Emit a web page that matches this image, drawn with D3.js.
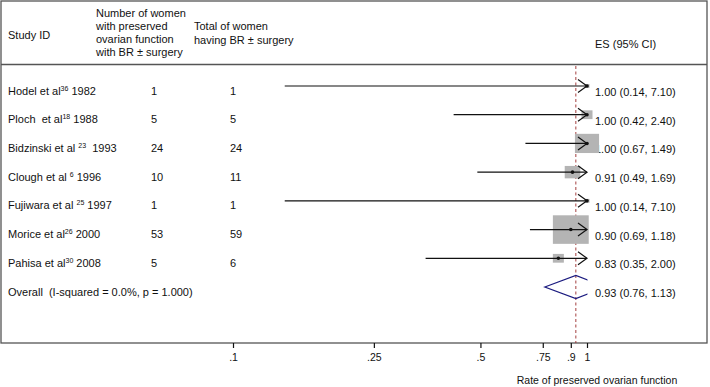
<!DOCTYPE html>
<html><head><meta charset="utf-8">
<script src="https://cdn.jsdelivr.net/npm/d3@7"></script>
<style>
html,body{margin:0;padding:0;background:#fff;}
svg text{font-family:"Liberation Sans",Arial,sans-serif;fill:#111;white-space:pre;}
</style></head>
<body><svg id="c" width="710" height="387"></svg>
<script>
const studies = ["Hodel et al", "Ploch  et al", "Bidzinski et al ", "Clough et al ", "Fujiwara et al ", "Morice et al", "Pahisa et al"];
const refs = ["36", "18", "23", "6", "25", "26", "30"];
const years = [" 1982", " 1988", "  1993", " 1996", " 1997", " 2000", " 2008"];
const preserved = [1, 5, 24, 10, 1, 53, 5];
const totals = [1, 5, 24, 11, 1, 59, 6];
const es = [1.00, 1.00, 1.00, 0.91, 1.00, 0.90, 0.83];
const lo = [0.14, 0.42, 0.67, 0.49, 0.14, 0.69, 0.35];
const hi = [7.10, 2.40, 1.49, 1.69, 7.10, 1.18, 2.00];
const weights = [1.01, 5.05, 24.24, 10.10, 1.01, 53.54, 5.05];
const overall = {es: 0.93, lo: 0.76, hi: 1.13, label: "Overall  (I-squared = 0.0%, p = 1.000)"};
const tickVals = [0.1, 0.25, 0.5, 0.75, 0.9, 1];
const tickLabels = [".1", ".25", ".5", ".75", ".9", "1"];
const axisTitle = "Rate of preserved ovarian function";

const svg = d3.select("#c");
const x = d3.scaleLog().domain([0.1, 1]).range([233, 587]);
const y = d3.scaleLinear().domain([0, 7]).range([86, 287]);
const xmax = x(1);
const fmt = d3.format(".2f");

// frame
svg.append("rect").attr("x", 1).attr("y", 1).attr("width", 706).attr("height", 342)
  .attr("fill", "none").attr("stroke", "#555").attr("stroke-width", 1.3);
svg.append("line").attr("x1", 1).attr("x2", 707).attr("y1", 64.5).attr("y2", 64.5)
  .attr("stroke", "#555").attr("stroke-width", 1.3);

// header
const fs = "11px";
svg.append("text").attr("x", 8).attr("y", 39).style("font-size", fs).text("Study ID");
["Number of women", "with preserved", "ovarian function", "with BR \u00b1 surgery"].forEach((t, i) =>
  svg.append("text").attr("x", 96).attr("y", 17 + i * 13).style("font-size", fs).text(t));
["Total of women", "having BR \u00b1 surgery"].forEach((t, i) =>
  svg.append("text").attr("x", 194).attr("y", 30 + i * 14).style("font-size", fs).text(t));
svg.append("text").attr("x", 595).attr("y", 48).style("font-size", fs).text("ES (95% CI)");

// reference dashed line
svg.append("line").attr("x1", x(overall.es)).attr("x2", x(overall.es)).attr("y1", 66).attr("y2", 343)
  .attr("stroke", "#9a2a2a").attr("stroke-width", 0.9).attr("stroke-dasharray", "3,2.5");

// clip
svg.append("clipPath").attr("id", "clip").append("rect").attr("x", 0).attr("y", 65).attr("width", xmax + 0.5).attr("height", 278);

// rows
studies.forEach((s, i) => {
  const yy = y(i);
  const t = svg.append("text").attr("x", 8).attr("y", yy + 8.5).style("font-size", fs);
  t.append("tspan").text(s);
  t.append("tspan").attr("dy", -4).style("font-size", "7px").text(refs[i]);
  t.append("tspan").attr("dy", 4).text(years[i]);
  svg.append("text").attr("x", 151).attr("y", yy + 8.5).style("font-size", fs).text(preserved[i]);
  svg.append("text").attr("x", 230).attr("y", yy + 8.5).style("font-size", fs).text(totals[i]);
  svg.append("text").attr("x", 595).attr("y", yy + 10).style("font-size", fs)
    .text(`${fmt(es[i])} (${fmt(lo[i])}, ${fmt(hi[i])})`);

  // box
  const bw = 4.9 * Math.sqrt(weights[i]), bh = 3.9 * Math.sqrt(weights[i]);
  svg.append("rect").attr("x", x(es[i]) - bw / 2).attr("y", yy - bh / 2).attr("width", bw).attr("height", bh)
    .attr("fill", "#b4b4b4");
  // CI line
  const x2 = Math.min(x(hi[i]), xmax);
  svg.append("line").attr("x1", x(lo[i])).attr("x2", x2).attr("y1", yy).attr("y2", yy)
    .attr("stroke", "#111").attr("stroke-width", 1.2);
  if (hi[i] > 1) {
    svg.append("path").attr("d", `M${xmax - 9},${yy - 6.5}L${xmax},${yy}L${xmax - 9},${yy + 6.5}`)
      .attr("fill", "none").attr("stroke", "#111").attr("stroke-width", 1.2);
  }
  svg.append("circle").attr("cx", x(es[i])).attr("cy", yy).attr("r", 1.8).attr("fill", "#111");
});

// overall
const yo = y(7);
svg.append("text").attr("x", 8).attr("y", yo + 8.5).style("font-size", fs).text(overall.label);
svg.append("text").attr("x", 595).attr("y", yo + 10).style("font-size", fs)
  .text(`${fmt(overall.es)} (${fmt(overall.lo)}, ${fmt(overall.hi)})`);
svg.append("path").attr("clip-path", "url(#clip)")
  .attr("d", `M${x(overall.lo)},${yo}L${x(overall.es)},${yo - 11.5}L${x(overall.hi)},${yo}L${x(overall.es)},${yo + 11.5}Z`)
  .attr("fill", "none").attr("stroke", "#1c1c80").attr("stroke-width", 1.2);

// axis
const axis = d3.axisBottom(x).tickValues(tickVals).tickFormat((d, i) => tickLabels[i]).tickSize(5).tickPadding(6);
const g = svg.append("g").attr("transform", "translate(0,343)").call(axis);
g.select(".domain").remove();
g.selectAll(".tick line").attr("stroke", "#111").attr("stroke-width", 1.2);
g.selectAll(".tick text").style("font-size", "10.5px").style("font-family", "'Liberation Sans',Arial,sans-serif").attr("fill", "#111");
svg.append("text").attr("x", 597).attr("y", 384).attr("text-anchor", "middle").style("font-size", "10.5px").text(axisTitle);
</script></body></html>
